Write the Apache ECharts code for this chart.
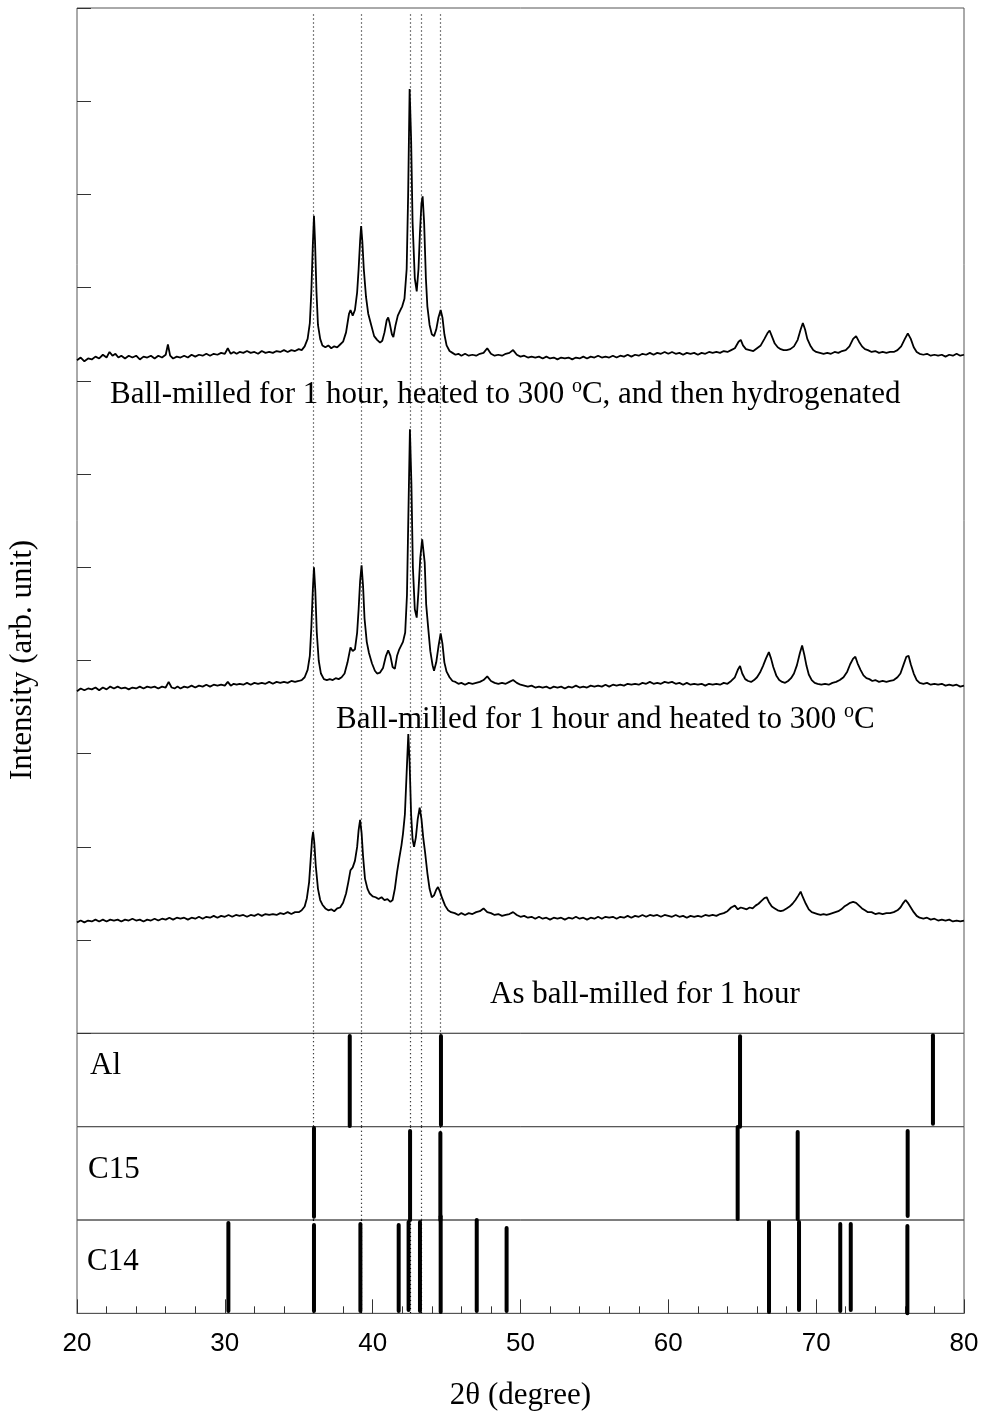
<!DOCTYPE html>
<html>
<head>
<meta charset="utf-8">
<script src="https://cdn.jsdelivr.net/npm/echarts@6/dist/echarts.min.js"></script>
<style>
html,body{margin:0;padding:0;background:#fff;}
#chart{width:983px;height:1416px;}
</style>
</head>
<body>
<div id="chart"></div>
<script>
// ---------- DATA (2θ in degrees, intensity in arbitrary offset units) ----------
const xrdHydrogenated = [
[20.0,7.22],[20.25,7.25],[20.5,7.21],[20.75,7.24],[21.0,7.23],[21.25,7.26],[21.5,7.24],[21.75,7.28],[22.0,7.25],[22.2,7.31],[22.4,7.27],[22.6,7.29],[22.8,7.25],[23.0,7.27],[23.25,7.24],[23.5,7.27],[23.75,7.25],[24.0,7.27],[24.25,7.23],[24.5,7.26],[24.75,7.25],[25.0,7.27],[25.25,7.24],[25.5,7.27],[25.75,7.25],[26.0,7.28],[26.15,7.39],[26.3,7.27],[26.5,7.24],[26.75,7.26],[27.0,7.25],[27.25,7.27],[27.5,7.25],[27.75,7.28],[28.0,7.26],[28.25,7.28],[28.5,7.27],[28.75,7.29],[29.0,7.27],[29.25,7.29],[29.5,7.28],[29.75,7.30],[30.0,7.29],[30.2,7.35],[30.4,7.29],[30.6,7.31],[30.8,7.29],[31.0,7.31],[31.25,7.30],[31.5,7.32],[31.75,7.30],[32.0,7.31],[32.25,7.29],[32.5,7.32],[32.75,7.30],[33.0,7.31],[33.25,7.30],[33.5,7.32],[33.75,7.31],[34.0,7.33],[34.25,7.31],[34.5,7.33],[34.75,7.32],[35.0,7.34],[35.2,7.33],[35.4,7.37],[35.6,7.45],[35.75,7.62],[35.85,7.95],[35.95,8.45],[36.03,8.77],[36.1,8.5],[36.2,7.95],[36.3,7.6],[36.45,7.45],[36.6,7.38],[36.8,7.36],[37.0,7.38],[37.2,7.35],[37.4,7.37],[37.6,7.36],[37.8,7.39],[38.0,7.42],[38.2,7.52],[38.4,7.72],[38.5,7.76],[38.65,7.70],[38.8,7.76],[38.95,7.95],[39.05,8.2],[39.15,8.5],[39.22,8.66],[39.3,8.5],[39.4,8.2],[39.55,7.9],[39.7,7.72],[39.9,7.6],[40.1,7.48],[40.3,7.44],[40.5,7.41],[40.65,7.43],[40.8,7.52],[40.95,7.65],[41.05,7.68],[41.15,7.62],[41.3,7.50],[41.4,7.47],[41.55,7.6],[41.7,7.7],[41.85,7.75],[42.0,7.8],[42.15,7.88],[42.3,8.2],[42.4,9.0],[42.5,10.13],[42.6,9.6],[42.7,8.7],[42.85,8.1],[42.98,7.96],[43.1,8.2],[43.2,8.6],[43.3,8.9],[43.38,8.98],[43.48,8.7],[43.6,8.1],[43.7,7.8],[43.85,7.6],[44.0,7.5],[44.15,7.48],[44.3,7.55],[44.45,7.68],[44.6,7.76],[44.72,7.68],[44.85,7.5],[45.0,7.38],[45.2,7.32],[45.4,7.30],[45.6,7.28],[45.8,7.29],[46.0,7.27],[46.25,7.29],[46.5,7.27],[46.75,7.28],[47.0,7.27],[47.25,7.29],[47.5,7.30],[47.75,7.35],[48.0,7.29],[48.25,7.27],[48.5,7.28],[48.75,7.27],[49.0,7.29],[49.25,7.30],[49.5,7.33],[49.75,7.28],[50.0,7.26],[50.25,7.27],[50.5,7.25],[50.75,7.26],[51.0,7.25],[51.25,7.26],[51.5,7.24],[51.75,7.26],[52.0,7.24],[52.25,7.25],[52.5,7.23],[52.75,7.25],[53.0,7.24],[53.25,7.25],[53.5,7.23],[53.75,7.25],[54.0,7.24],[54.25,7.26],[54.5,7.24],[54.75,7.26],[55.0,7.25],[55.25,7.27],[55.5,7.25],[55.75,7.26],[56.0,7.25],[56.25,7.27],[56.5,7.25],[56.75,7.27],[57.0,7.26],[57.25,7.28],[57.5,7.26],[57.75,7.28],[58.0,7.27],[58.25,7.29],[58.5,7.28],[58.75,7.30],[59.0,7.28],[59.25,7.30],[59.5,7.29],[59.75,7.31],[60.0,7.29],[60.25,7.31],[60.5,7.29],[60.75,7.30],[61.0,7.28],[61.25,7.30],[61.5,7.29],[61.75,7.30],[62.0,7.28],[62.25,7.30],[62.5,7.29],[62.75,7.31],[63.0,7.30],[63.25,7.31],[63.5,7.30],[63.75,7.32],[64.0,7.31],[64.25,7.33],[64.5,7.35],[64.75,7.42],[64.9,7.44],[65.05,7.38],[65.25,7.34],[65.5,7.33],[65.75,7.32],[66.0,7.35],[66.25,7.38],[66.5,7.45],[66.7,7.51],[66.85,7.54],[67.0,7.48],[67.2,7.40],[67.4,7.36],[67.6,7.34],[67.8,7.33],[68.0,7.33],[68.25,7.34],[68.5,7.37],[68.75,7.44],[68.95,7.55],[69.1,7.62],[69.25,7.55],[69.4,7.45],[69.6,7.38],[69.8,7.33],[70.0,7.31],[70.25,7.30],[70.5,7.29],[70.75,7.30],[71.0,7.29],[71.25,7.31],[71.5,7.30],[71.75,7.32],[72.0,7.33],[72.25,7.37],[72.5,7.45],[72.7,7.48],[72.9,7.42],[73.1,7.37],[73.3,7.34],[73.5,7.33],[73.75,7.31],[74.0,7.32],[74.25,7.30],[74.5,7.31],[74.75,7.30],[75.0,7.31],[75.25,7.31],[75.5,7.33],[75.75,7.37],[76.0,7.45],[76.2,7.51],[76.4,7.45],[76.6,7.36],[76.8,7.31],[77.0,7.29],[77.25,7.28],[77.5,7.29],[77.75,7.27],[78.0,7.28],[78.25,7.27],[78.5,7.28],[78.75,7.26],[79.0,7.28],[79.25,7.27],[79.5,7.29],[79.75,7.27],[80.0,7.28]
];
const xrdHeated = [
[20.0,3.67],[20.25,3.70],[20.5,3.68],[20.75,3.70],[21.0,3.69],[21.25,3.71],[21.5,3.68],[21.75,3.71],[22.0,3.69],[22.25,3.72],[22.5,3.70],[22.75,3.72],[23.0,3.70],[23.25,3.71],[23.5,3.69],[23.75,3.71],[24.0,3.70],[24.25,3.72],[24.5,3.70],[24.75,3.72],[25.0,3.71],[25.25,3.72],[25.5,3.70],[25.75,3.72],[26.0,3.71],[26.2,3.77],[26.4,3.71],[26.6,3.70],[26.8,3.72],[27.0,3.70],[27.25,3.72],[27.5,3.71],[27.75,3.73],[28.0,3.71],[28.25,3.73],[28.5,3.72],[28.75,3.74],[29.0,3.72],[29.25,3.74],[29.5,3.73],[29.75,3.74],[30.0,3.73],[30.2,3.77],[30.4,3.73],[30.6,3.75],[30.8,3.74],[31.0,3.75],[31.25,3.74],[31.5,3.76],[31.75,3.74],[32.0,3.76],[32.25,3.75],[32.5,3.76],[32.75,3.75],[33.0,3.77],[33.25,3.75],[33.5,3.77],[33.75,3.76],[34.0,3.77],[34.25,3.76],[34.5,3.78],[34.75,3.77],[35.0,3.78],[35.2,3.79],[35.4,3.82],[35.6,3.90],[35.75,4.05],[35.85,4.35],[35.95,4.75],[36.03,5.00],[36.12,4.75],[36.22,4.3],[36.35,4.0],[36.5,3.86],[36.7,3.80],[36.9,3.79],[37.1,3.80],[37.3,3.79],[37.5,3.81],[37.7,3.80],[37.9,3.82],[38.1,3.86],[38.3,3.98],[38.5,4.14],[38.65,4.10],[38.8,4.12],[38.95,4.3],[39.05,4.55],[39.15,4.85],[39.25,5.02],[39.35,4.8],[39.45,4.45],[39.6,4.2],[39.75,4.08],[39.95,3.97],[40.15,3.89],[40.3,3.86],[40.5,3.87],[40.7,3.92],[40.9,4.05],[41.05,4.11],[41.2,4.05],[41.35,3.93],[41.5,3.91],[41.65,4.05],[41.8,4.12],[41.9,4.14],[42.05,4.2],[42.2,4.3],[42.32,4.7],[42.42,5.6],[42.52,6.48],[42.62,5.9],[42.72,5.0],[42.85,4.55],[42.98,4.46],[43.1,4.75],[43.22,5.1],[43.35,5.3],[43.43,5.32],[43.52,5.05],[43.62,4.6],[43.75,4.36],[43.9,4.1],[44.05,3.95],[44.15,3.89],[44.3,3.98],[44.45,4.15],[44.6,4.29],[44.72,4.18],[44.85,3.98],[45.0,3.88],[45.2,3.82],[45.4,3.78],[45.6,3.77],[45.8,3.75],[46.0,3.76],[46.25,3.74],[46.5,3.76],[46.75,3.75],[47.0,3.76],[47.25,3.77],[47.5,3.79],[47.75,3.83],[48.0,3.78],[48.25,3.76],[48.5,3.75],[48.75,3.76],[49.0,3.75],[49.25,3.77],[49.5,3.79],[49.75,3.76],[50.0,3.74],[50.25,3.73],[50.5,3.72],[50.75,3.73],[51.0,3.71],[51.25,3.72],[51.5,3.71],[51.75,3.72],[52.0,3.70],[52.25,3.72],[52.5,3.71],[52.75,3.72],[53.0,3.70],[53.25,3.72],[53.5,3.71],[53.75,3.73],[54.0,3.71],[54.25,3.72],[54.5,3.71],[54.75,3.73],[55.0,3.72],[55.25,3.73],[55.5,3.72],[55.75,3.74],[56.0,3.72],[56.25,3.74],[56.5,3.73],[56.75,3.74],[57.0,3.73],[57.25,3.75],[57.5,3.74],[57.75,3.75],[58.0,3.74],[58.25,3.76],[58.5,3.75],[58.75,3.77],[59.0,3.75],[59.25,3.76],[59.5,3.75],[59.75,3.77],[60.0,3.76],[60.25,3.77],[60.5,3.75],[60.75,3.76],[61.0,3.74],[61.25,3.76],[61.5,3.74],[61.75,3.75],[62.0,3.74],[62.25,3.75],[62.5,3.73],[62.75,3.75],[63.0,3.74],[63.25,3.75],[63.5,3.74],[63.75,3.76],[64.0,3.75],[64.25,3.78],[64.5,3.82],[64.7,3.90],[64.85,3.94],[65.0,3.86],[65.2,3.80],[65.4,3.78],[65.6,3.77],[65.8,3.79],[66.0,3.82],[66.2,3.87],[66.4,3.94],[66.6,4.02],[66.8,4.09],[66.95,4.02],[67.1,3.93],[67.3,3.84],[67.5,3.79],[67.7,3.77],[67.9,3.76],[68.1,3.78],[68.3,3.81],[68.5,3.86],[68.7,3.95],[68.9,4.08],[69.05,4.16],[69.2,4.06],[69.35,3.94],[69.5,3.85],[69.7,3.79],[69.9,3.76],[70.1,3.75],[70.35,3.74],[70.6,3.75],[70.85,3.74],[71.1,3.76],[71.35,3.77],[71.6,3.79],[71.85,3.82],[72.1,3.88],[72.3,3.96],[72.5,4.02],[72.65,4.04],[72.8,3.97],[73.0,3.90],[73.2,3.84],[73.4,3.81],[73.6,3.80],[73.8,3.78],[74.0,3.79],[74.25,3.77],[74.5,3.78],[74.75,3.77],[75.0,3.78],[75.25,3.79],[75.5,3.82],[75.7,3.86],[75.9,3.95],[76.1,4.04],[76.25,4.05],[76.4,3.96],[76.6,3.86],[76.8,3.79],[77.0,3.76],[77.25,3.75],[77.5,3.76],[77.75,3.74],[78.0,3.75],[78.25,3.74],[78.5,3.75],[78.75,3.73],[79.0,3.74],[79.25,3.73],[79.5,3.74],[79.75,3.72],[80.0,3.73]
];
const xrdAsMilled = [
[20.0,1.19],[20.25,1.21],[20.5,1.19],[20.75,1.21],[21.0,1.20],[21.25,1.22],[21.5,1.20],[21.75,1.22],[22.0,1.20],[22.25,1.22],[22.5,1.21],[22.75,1.22],[23.0,1.20],[23.25,1.22],[23.5,1.21],[23.75,1.23],[24.0,1.21],[24.25,1.22],[24.5,1.20],[24.75,1.22],[25.0,1.21],[25.25,1.23],[25.5,1.21],[25.75,1.23],[26.0,1.22],[26.25,1.24],[26.5,1.22],[26.75,1.24],[27.0,1.23],[27.25,1.24],[27.5,1.22],[27.75,1.24],[28.0,1.23],[28.25,1.25],[28.5,1.23],[28.75,1.25],[29.0,1.24],[29.25,1.26],[29.5,1.24],[29.75,1.26],[30.0,1.25],[30.25,1.27],[30.5,1.25],[30.75,1.27],[31.0,1.26],[31.25,1.27],[31.5,1.25],[31.75,1.27],[32.0,1.26],[32.25,1.28],[32.5,1.26],[32.75,1.28],[33.0,1.27],[33.25,1.28],[33.5,1.27],[33.75,1.29],[34.0,1.28],[34.25,1.30],[34.5,1.28],[34.75,1.30],[35.0,1.30],[35.2,1.32],[35.4,1.36],[35.55,1.45],[35.7,1.62],[35.8,1.85],[35.9,2.08],[35.97,2.16],[36.05,2.05],[36.15,1.8],[36.3,1.55],[36.45,1.43],[36.6,1.38],[36.8,1.34],[37.0,1.32],[37.2,1.33],[37.4,1.31],[37.6,1.34],[37.8,1.35],[38.0,1.40],[38.2,1.50],[38.35,1.62],[38.5,1.75],[38.65,1.78],[38.8,1.85],[38.95,2.0],[39.05,2.18],[39.15,2.29],[39.25,2.15],[39.35,1.9],[39.48,1.66],[39.65,1.55],[39.8,1.50],[40.0,1.47],[40.2,1.46],[40.4,1.44],[40.6,1.46],[40.8,1.43],[41.0,1.44],[41.2,1.41],[41.35,1.43],[41.5,1.55],[41.65,1.73],[41.8,1.88],[41.95,2.02],[42.05,2.14],[42.18,2.35],[42.3,2.8],[42.41,3.21],[42.5,2.9],[42.6,2.35],[42.7,2.08],[42.8,2.0],[42.92,2.1],[43.05,2.3],[43.18,2.42],[43.3,2.3],[43.42,2.1],[43.54,1.95],[43.7,1.72],[43.85,1.55],[44.0,1.46],[44.15,1.48],[44.3,1.54],[44.42,1.57],[44.55,1.52],[44.7,1.45],[44.9,1.37],[45.1,1.32],[45.3,1.30],[45.55,1.29],[45.8,1.27],[46.0,1.29],[46.25,1.27],[46.5,1.29],[46.75,1.28],[47.0,1.30],[47.25,1.31],[47.5,1.34],[47.75,1.30],[48.0,1.29],[48.25,1.27],[48.5,1.28],[48.75,1.26],[49.0,1.27],[49.25,1.28],[49.5,1.30],[49.75,1.27],[50.0,1.25],[50.25,1.26],[50.5,1.24],[50.75,1.25],[51.0,1.23],[51.25,1.25],[51.5,1.23],[51.75,1.24],[52.0,1.22],[52.25,1.24],[52.5,1.23],[52.75,1.24],[53.0,1.22],[53.25,1.24],[53.5,1.23],[53.75,1.25],[54.0,1.23],[54.25,1.24],[54.5,1.22],[54.75,1.24],[55.0,1.23],[55.25,1.25],[55.5,1.23],[55.75,1.25],[56.0,1.24],[56.25,1.25],[56.5,1.23],[56.75,1.25],[57.0,1.24],[57.25,1.26],[57.5,1.24],[57.75,1.26],[58.0,1.25],[58.25,1.27],[58.5,1.25],[58.75,1.27],[59.0,1.26],[59.25,1.27],[59.5,1.25],[59.75,1.27],[60.0,1.26],[60.25,1.25],[60.5,1.27],[60.75,1.25],[61.0,1.26],[61.25,1.24],[61.5,1.26],[61.75,1.25],[62.0,1.26],[62.25,1.25],[62.5,1.27],[62.75,1.26],[63.0,1.27],[63.25,1.26],[63.5,1.28],[63.75,1.29],[64.0,1.31],[64.25,1.35],[64.5,1.37],[64.7,1.33],[64.9,1.35],[65.1,1.34],[65.3,1.33],[65.5,1.35],[65.7,1.34],[65.9,1.37],[66.1,1.39],[66.3,1.42],[66.5,1.45],[66.65,1.46],[66.8,1.41],[67.0,1.36],[67.2,1.34],[67.4,1.32],[67.6,1.31],[67.8,1.32],[68.0,1.34],[68.2,1.36],[68.4,1.39],[68.6,1.43],[68.8,1.48],[68.95,1.52],[69.1,1.46],[69.3,1.39],[69.5,1.33],[69.7,1.30],[69.9,1.29],[70.1,1.28],[70.3,1.27],[70.5,1.28],[70.7,1.27],[70.9,1.28],[71.1,1.29],[71.3,1.30],[71.5,1.31],[71.7,1.33],[71.9,1.36],[72.1,1.38],[72.3,1.40],[72.5,1.41],[72.7,1.40],[72.9,1.37],[73.1,1.34],[73.3,1.32],[73.5,1.30],[73.75,1.30],[74.0,1.28],[74.25,1.29],[74.5,1.28],[74.75,1.29],[75.0,1.29],[75.25,1.30],[75.5,1.32],[75.7,1.35],[75.9,1.40],[76.05,1.43],[76.2,1.40],[76.4,1.35],[76.6,1.30],[76.8,1.26],[77.0,1.24],[77.25,1.23],[77.5,1.24],[77.75,1.22],[78.0,1.23],[78.25,1.21],[78.5,1.22],[78.75,1.21],[79.0,1.22],[79.25,1.20],[79.5,1.21],[79.75,1.20],[80.0,1.21]
];
// reference patterns: [2θ, stick bottom, stick top] (panel scale 0-100)
const sticksAl  = [[38.45,0.7,97.1],[44.62,1.8,97.1],[64.85,0,97],[77.9,3,98]];
const sticksC15 = [[36.03,3.5,98.6],[42.53,0,95.4],[44.58,0,93.2],[64.69,1,99.6],[68.75,1,94.3],[76.19,4.3,95.4]];
const sticksC14 = [[30.24,2.5,96.8],[36.03,2.5,94.6],[39.17,2.5,95.7],[41.76,2.5,94.6],[42.43,3.5,97.9],[43.2,2.5,97.9],[44.6,1.4,104],[47.04,2.5,100],[49.06,2.5,91.4],[66.81,1.4,97.9],[68.84,3.5,97.9],[71.63,2.5,95.7],[72.34,3.5,95.7],[76.17,0,93.6]];
const guideLines = [35.98, 39.22, 42.53, 43.27, 44.6];
const panelNames = ['Al', 'C15', 'C14'];
const curveLabels = [
  'Ball-milled for 1 hour, heated to 300 {sup|o}C, and then hydrogenated',
  'Ball-milled for 1 hour and heated to 300 {sup|o}C',
  'As ball-milled for 1 hour'
];
const xTitle = '2θ (degree)';
const yTitle = 'Intensity (arb. unit)';

// ---------- CHART ----------
const chart = echarts.init(document.getElementById('chart'), null, {renderer: 'canvas'});
const SERIF = '"Liberation Serif","Times New Roman",serif';
const SANS = '"Liberation Sans",Arial,sans-serif';
const L = 77, R = 19;
const grids = [
  {left: L, right: R, top: 8, height: 1025.33},
  {left: L, right: R, top: 1033.33, height: 93.33},
  {left: L, right: R, top: 1126.67, height: 93.33},
  {left: L, right: R, top: 1220, height: 93.33}
].map(g => Object.assign(g, {show: true, borderColor: '#555', borderWidth: 1, backgroundColor: 'transparent'}));

const xAxes = grids.map((g, i) => ({
  type: 'value', gridIndex: i, min: 20, max: 80, interval: 10,
  show: i === 3,
  axisLine: {show: true, lineStyle: {color: '#555', width: 1}},
  axisTick: {show: i === 3, inside: true, length: 14, lineStyle: {color: '#333', width: 1}},
  minorTick: {show: i === 3, splitNumber: 5, length: 7, lineStyle: {color: '#333', width: 1}},
  splitLine: {show: false},
  axisLabel: {show: i === 3, fontFamily: SANS, fontSize: 26, color: '#000', margin: 17, lineHeight: 26},
  name: i === 3 ? xTitle : '',
  nameLocation: 'middle', nameGap: 67,
  nameTextStyle: {fontFamily: SERIF, fontSize: 31, color: '#000', lineHeight: 31}
}));
const yAxes = grids.map((g, i) => i === 0 ? ({
  type: 'value', gridIndex: 0, min: 0, max: 11, interval: 1,
  axisLine: {show: false},
  axisTick: {show: true, inside: true, length: 14, lineStyle: {color: '#333', width: 1}},
  axisLabel: {show: false}, splitLine: {show: false}
}) : ({
  type: 'value', gridIndex: i, min: 0, max: 100, show: false, splitLine: {show: false}
}));

const traceStyle = {color: '#000', width: 1.8};
const series = [];
[xrdHydrogenated, xrdHeated, xrdAsMilled].forEach(d => series.push({
  type: 'line', xAxisIndex: 0, yAxisIndex: 0, data: d, showSymbol: false, symbol: 'none',
  lineStyle: traceStyle, z: 3, silent: true
}));
// dotted guide lines through all panels
[0, 1, 2, 3].forEach(i => {
  const top = i === 0 ? 10.93 : 100;
  series.push({
    type: 'line', xAxisIndex: i, yAxisIndex: i, data: [], z: 1, silent: true,
    markLine: {
      silent: true, symbol: ['none', 'none'], label: {show: false}, animation: false,
      lineStyle: {type: [1, 3], color: '#000', width: 1.2},
      data: guideLines.map(x => [{coord: [x, top]}, {coord: [x, 0]}])
    }
  });
});
function stickRender(params, api) {
  const p0 = api.coord([api.value(0), api.value(1)]);
  const p1 = api.coord([api.value(0), api.value(2)]);
  return {type: 'line', shape: {x1: p0[0], y1: p0[1], x2: p1[0], y2: p1[1]},
          style: {stroke: '#000', lineWidth: 4, lineCap: 'round'}};
}
[sticksAl, sticksC15, sticksC14].forEach((d, k) => series.push({
  type: 'custom', xAxisIndex: k + 1, yAxisIndex: k + 1, data: d, renderItem: stickRender,
  encode: {x: 0, y: [1, 2]}, z: 4, clip: false, silent: true
}));

const richSup = {sup: {fontFamily: SERIF, fontSize: 20, lineHeight: 18, verticalAlign: 'top', fill: '#000'}};
function txt(x, y, text) {
  return {type: 'text', x: x, y: y, silent: true,
    style: {text: text, fontFamily: SERIF, fontSize: 31, lineHeight: 36, fill: '#000',
      align: 'left', verticalAlign: 'middle', rich: richSup}};
}
const graphics = [
  txt(110, 394.5, curveLabels[0]),
  txt(336, 719.5, curveLabels[1]),
  txt(490, 994.5, curveLabels[2]),
  txt(90, 1065.5, panelNames[0]),
  txt(88, 1169.5, panelNames[1]),
  txt(87, 1261.5, panelNames[2]),
  {type: 'text', x: 23, y: 660, rotation: Math.PI / 2, silent: true,
   style: {text: yTitle, fontFamily: SERIF, fontSize: 31, fill: '#000', align: 'center', verticalAlign: 'middle'}}
];

chart.setOption({
  animation: false,
  backgroundColor: '#fff',
  grid: grids,
  xAxis: xAxes,
  yAxis: yAxes,
  series: series,
  graphic: graphics
});
</script>
</body>
</html>
